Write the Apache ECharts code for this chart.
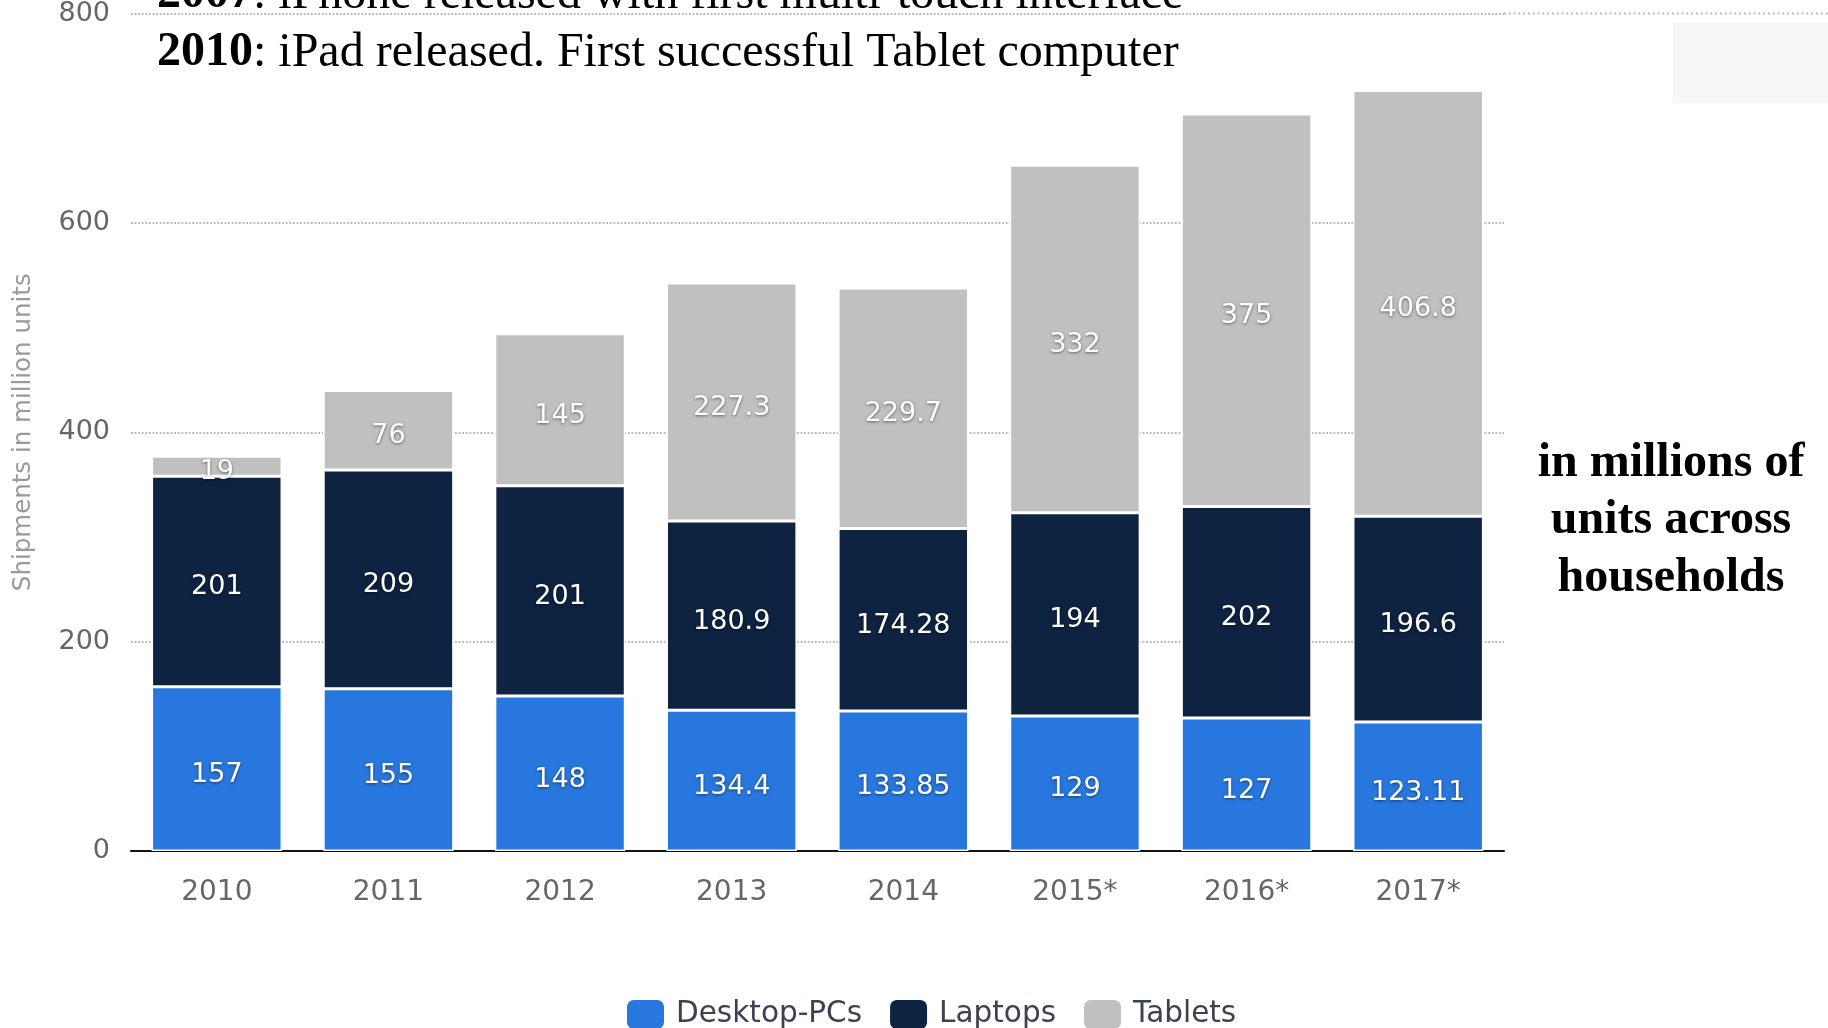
<!DOCTYPE html>
<html>
<head>
<meta charset="utf-8">
<title>PC, laptop and tablet shipments 2010–2017</title>
<script src="https://cdn.jsdelivr.net/npm/echarts@6/dist/echarts.min.js"></script>
<style>
  html, body { margin: 0; padding: 0; background: #ffffff; }
  #chart { width: 1828px; height: 1028px; }
</style>
</head>
<body>
<div id="chart"></div>
<script>
// Shipments in million units, by device type
const years = ['2010', '2011', '2012', '2013', '2014', '2015*', '2016*', '2017*'];
const desktopPCs = [157, 155, 148, 134.4, 133.85, 129, 127, 123.11];
const laptops = [201, 209, 201, 180.9, 174.28, 194, 202, 196.6];
const tablets = [19, 76, 145, 227.3, 229.7, 332, 375, 406.8];

const yTicks = { min: 0, max: 800, interval: 200 };

const seriesNames = ['Desktop-PCs', 'Laptops', 'Tablets'];
const seriesColors = ['#2877de', '#0e2341', '#c0c0c0'];

const sans = '"DejaVu Sans", Verdana, sans-serif';
const serif = '"Liberation Serif", "Times New Roman", serif';

const chart = echarts.init(document.getElementById('chart'), null, { renderer: 'canvas' });

function stackSeries(name, data, color) {
  return {
    name: name,
    type: 'bar',
    stack: 'devices',
    data: data,
    barWidth: '76%',
    itemStyle: { color: color, borderColor: '#ffffff', borderWidth: 1.5 },
    label: {
      show: true,
      position: 'inside',
      offset: [0, 6],
      color: '#ffffff',
      fontFamily: sans,
      fontSize: 27,
      textShadowColor: 'rgba(0,0,0,0.5)',
      textShadowBlur: 3,
      textShadowOffsetY: 1
    },
    emphasis: { disabled: true }
  };
}

chart.setOption({
  backgroundColor: '#ffffff',
  animation: false,
  grid: { left: 131, right: 324, top: 11, bottom: 177, containLabel: false },
  xAxis: {
    type: 'category',
    data: years,
    axisLine: { lineStyle: { color: '#111111', width: 2 } },
    axisTick: { show: false },
    axisLabel: { color: '#666666', fontFamily: sans, fontSize: 28, margin: 28 }
  },
  yAxis: {
    type: 'value',
    min: yTicks.min,
    max: yTicks.max,
    interval: yTicks.interval,
    name: 'Shipments in million units',
    nameLocation: 'middle',
    nameGap: 95,
    nameTextStyle: { color: '#9a9a9a', fontFamily: sans, fontSize: 24.5 },
    axisLine: { show: false },
    axisTick: { show: false },
    axisLabel: { color: '#666666', fontFamily: sans, fontSize: 27, margin: 21 },
    splitLine: { lineStyle: { color: '#b8b8b8', type: 'dotted', width: 1.8 } }
  },
  legend: {
    data: seriesNames,
    top: 993,
    left: 620,
    itemWidth: 39,
    itemHeight: 31,
    itemGap: 26,
    icon: 'roundRect',
    textStyle: { color: '#3c4250', fontFamily: sans, fontSize: 29.5, padding: [0, 0, 0, 6] },
    selectedMode: false
  },
  series: [
    stackSeries(seriesNames[0], desktopPCs, seriesColors[0]),
    stackSeries(seriesNames[1], laptops, seriesColors[1]),
    stackSeries(seriesNames[2], tablets, seriesColors[2])
  ]
});

// Extra decorations placed relative to the chart's own scale
const y800 = chart.convertToPixel({ yAxisIndex: 0 }, 800);
const xRight = chart.getWidth() - 324;

chart.setOption({
  graphic: [
    {
      type: 'rect',
      z: -1,
      shape: { x: 1673, y: 23, width: 155, height: 80 },
      style: { fill: '#f7f7f7' },
      silent: true
    },
    {
      type: 'line',
      shape: { x1: xRight, y1: y800, x2: chart.getWidth(), y2: y800 },
      style: { stroke: '#b8b8b8', lineWidth: 1.8, lineDash: [1.8, 3] },
      silent: true
    },
    {
      type: 'text',
      left: 157,
      top: -29,
      style: {
        text: '{b|2007}: iPhone released with first multi-touch interface',
        rich: { b: { fontWeight: 'bold', fontFamily: serif, fontSize: 48, fill: '#000' } },
        font: '48px ' + serif,
        fill: '#000000'
      },
      silent: true
    },
    {
      type: 'text',
      left: 157,
      top: 29,
      style: {
        text: '{b|2010}: iPad released. First successful Tablet computer',
        rich: { b: { fontWeight: 'bold', fontFamily: serif, fontSize: 48, fill: '#000' } },
        font: '48px ' + serif,
        fill: '#000000'
      },
      silent: true
    },
    {
      type: 'text',
      x: 1671,
      y: 521,
      style: {
        text: 'in millions of\nunits across\nhouseholds',
        font: 'bold 48px ' + serif,
        fill: '#000000',
        align: 'center',
        verticalAlign: 'middle',
        lineHeight: 57.5
      },
      silent: true
    }
  ]
});
</script>
</body>
</html>
